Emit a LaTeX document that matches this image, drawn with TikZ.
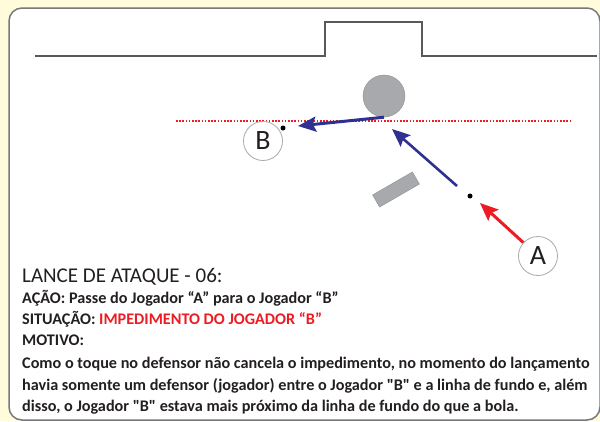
\documentclass[tikz,border=0pt]{standalone}
\usepackage{fontspec}
\setmainfont{Carlito}[Ligatures=TeXOff]
\usetikzlibrary{arrows.meta,positioning}
\definecolor{fundo}{HTML}{FFFBDB}
\definecolor{borda}{HTML}{77787B}
\definecolor{campo}{HTML}{58595B}
\definecolor{azul}{HTML}{2E3192}
\definecolor{vermelho}{HTML}{ED1C24}
\definecolor{cinzabola}{HTML}{A7A9AC}
\definecolor{circulo}{HTML}{A7A9AC}
\definecolor{textcol}{HTML}{231F20}
\begin{document}
\begin{tikzpicture}[x=1pt,y=-1pt,
    player/.style={circle,draw=circulo,line width=0.8pt,fill=white,minimum size=39pt,inner sep=0pt,
      font=\fontsize{28}{28}\selectfont,text=textcol},
    dot/.style={circle,fill=black,minimum size=5pt,inner sep=0pt},
    passe/.style={-{Stealth[length=18pt,width=15pt,inset=3pt]},line width=3pt},
    texto/.style={anchor=base west,inner sep=0pt,text=textcol,
      font=\fontsize{16.2}{21.5}\selectfont\bfseries}]
    \useasboundingbox (0,0) rectangle (600,421);
    \fill[fundo] (0,0) rectangle (600,421);
    \draw[borda,line width=1.5pt,fill=white,rounded corners=13pt] (9,8) rectangle (600,420);

    \coordinate (L1) at (176,121);
    \coordinate (L2) at (570,121);
    \coordinate (chegada) at (298,126);
    \coordinate (toque) at (457,186);
    \coordinate (desvio) at (392,129);
    \coordinate (lancamento) at (480,203);

    \draw[campo,line width=1.5pt] (35,56) -- (325,56) -- (325,22) -- (422,22) -- (422,56) -- (597,56);

    \draw[vermelho,line width=1.6pt,dash pattern=on 1.6pt off 1.6pt] (L1) -- (L2);

    \node[circle,fill=cinzabola,draw=cinzabola!85!black,minimum size=42pt,inner sep=0pt] (bola) at (384,96) {};
    \node[rotate=30,fill=cinzabola,draw=cinzabola!85!black,minimum width=46pt,minimum height=14pt,inner sep=0pt] (defensor) at (396,189.5) {};

    \node[player] (B) at (263,141) {B};
    \node[player] (A) at (538,256) {A};
    \node[dot] (dotB) at (283,128) {};
    \node[dot] (dotA) at (470,196) {};

    \draw[passe,azul] (bola.south) -- (chegada);
    \draw[passe,azul,line width=2.6pt] (toque) -- (desvio);
    \draw[passe,vermelho] (A) -- (lancamento);

    \node[texto,font=\fontsize{21}{22}\selectfont] (titulo) at (22,282) {LANCE DE ATAQUE - 06:};
    \node[texto] (acao) at (22,303.5) {AÇÃO: Passe do Jogador “A” para o Jogador “B”};
    \node[texto] (situacao) at (22,324.5) {SITUAÇÃO: \textcolor{vermelho}{IMPEDIMENTO DO JOGADOR “B”}};
    \node[texto] (motivo) at (22,345.5) {MOTIVO:};
    \node[texto] (linha1) at (22,368) {Como o toque no defensor não cancela o impedimento, no momento do lançamento};
    \node[texto] (linha2) at (22,390) {havia somente um defensor (jogador) entre o Jogador "B" e a linha de fundo e, além};
    \node[texto] (linha3) at (22,411) {disso, o Jogador "B" estava mais próximo da linha de fundo do que a bola.};
\end{tikzpicture}
\end{document}
